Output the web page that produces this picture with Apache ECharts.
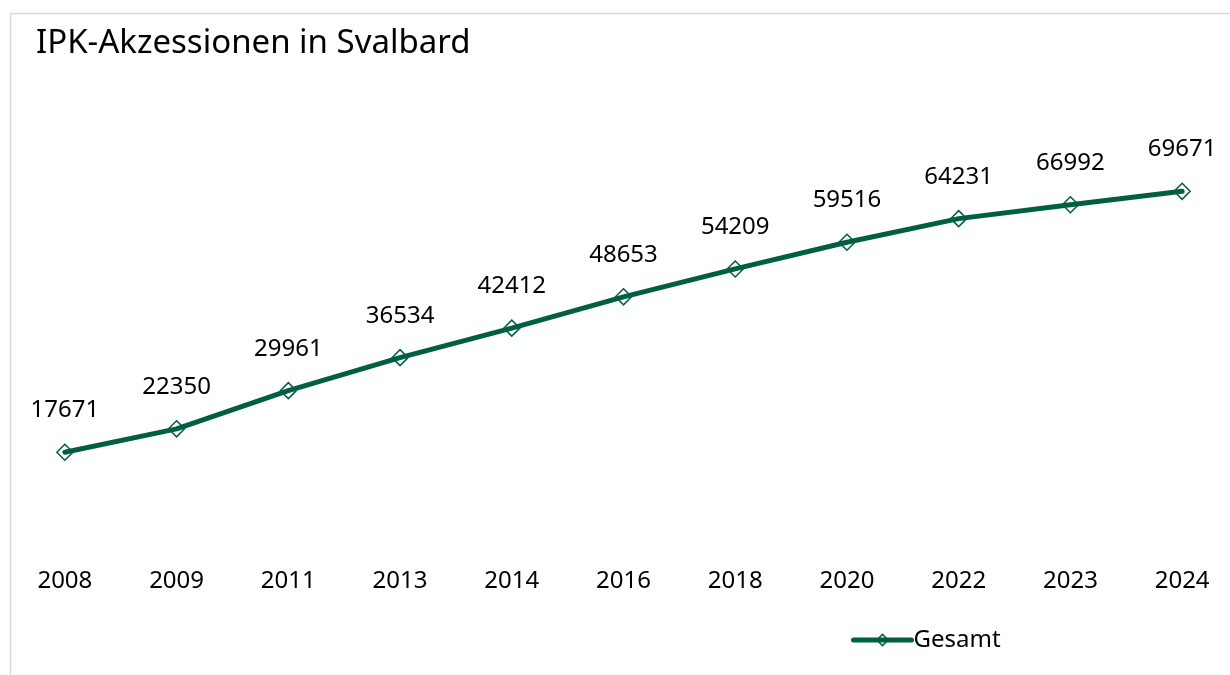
<!DOCTYPE html>
<html>
<head>
<meta charset="utf-8">
<script src="https://cdn.jsdelivr.net/npm/echarts@6/dist/echarts.min.js"></script>
<style>
  html, body { margin: 0; padding: 0; background: #fff; }
  #main { width: 1230px; height: 675px; }
</style>
</head>
<body>
<div id="main"></div>
<script>
// Werte
const years = ['2008', '2009', '2011', '2013', '2014', '2016', '2018', '2020', '2022', '2023', '2024'];
const gesamt = [17671, 22350, 29961, 36534, 42412, 48653, 54209, 59516, 64231, 66992, 69671];

const green = '#005f41';
const font = 'Noto Sans';

var myChart = echarts.init(document.getElementById('main'));
let option = {
  animation: false,
  textStyle: { fontFamily: font },
  graphic: [{
    type: 'rect',
    shape: { x: 10.5, y: 13.5, width: 1240, height: 700 },
    style: { fill: 'none', stroke: '#d9d9d9', lineWidth: 1.5 },
    silent: true
  }],
  title: {
    text: 'IPK-Akzessionen in Svalbard',
    left: 31,
    top: 22,
    textStyle: { fontFamily: font, fontSize: 33, fontWeight: 'normal', color: '#000' }
  },
  legend: {
    data: ['Gesamt'],
    left: 846,
    top: 623,
    itemWidth: 58,
    itemHeight: 14,
    itemGap: 3,
    lineStyle: { width: 5, color: green, cap: 'round' },
    itemStyle: { color: 'rgba(255,255,255,0)', borderColor: green, borderWidth: 1.5 },
    textStyle: { fontFamily: font, fontSize: 24, color: '#000', padding: [0, 0, 0, -3] }
  },
  grid: {
    left: 9,
    right: -8,
    top: 139.5,
    bottom: 134,
    outerBoundsMode: 'none'
  },
  xAxis: {
    type: 'category',
    data: years,
    axisLine: { show: false },
    axisTick: { show: false },
    axisLabel: { margin: 28, fontSize: 24, color: '#000', fontFamily: font }
  },
  yAxis: {
    type: 'value',
    min: 0,
    max: 80000,
    show: false,
    splitLine: { show: false }
  },
  series: [{
    name: 'Gesamt',
    type: 'line',
    data: gesamt,
    symbol: 'diamond',
    symbolSize: 16,
    showAllSymbol: true,
    lineStyle: { color: green, width: 5, cap: 'round' },
    itemStyle: { color: 'rgba(255,255,255,0)', borderColor: green, borderWidth: 1.5 },
    label: {
      show: true,
      position: 'top',
      distance: 21,
      fontSize: 24,
      color: '#000',
      fontFamily: font
    }
  }]
};
option && myChart.setOption(option);
</script>
</body>
</html>
